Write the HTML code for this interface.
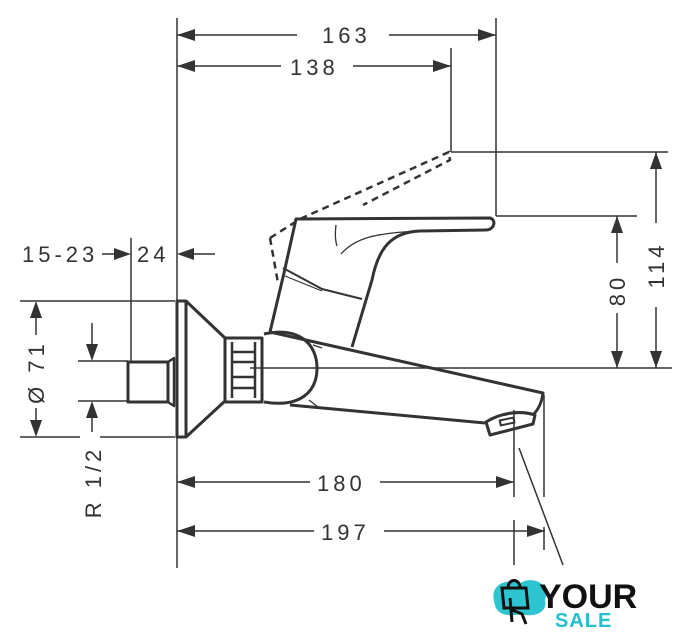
<!DOCTYPE html>
<html><head><meta charset="utf-8"><style>
html,body{margin:0;padding:0;background:#fff}
svg{display:block}
text{font-family:"Liberation Sans",sans-serif;fill:#333;font-size:22px;letter-spacing:4px}
</style></head><body>
<svg width="693" height="640" viewBox="0 0 693 640" xmlns="http://www.w3.org/2000/svg">
<g stroke="#333" stroke-width="1.5" fill="none">
<line x1="177" y1="18" x2="177" y2="300"/>
<line x1="177" y1="438" x2="177" y2="568"/>
<line x1="496" y1="18" x2="496" y2="216"/>
<line x1="451" y1="48" x2="451" y2="152"/>
<line x1="451" y1="152" x2="668" y2="152"/>
<line x1="496" y1="216" x2="637" y2="216"/>
<line x1="250" y1="368" x2="672" y2="368"/>
<line x1="177" y1="35" x2="297" y2="35"/><line x1="389" y1="35" x2="496" y2="35"/>
<line x1="177" y1="66" x2="281" y2="66"/><line x1="353" y1="66" x2="451" y2="66"/>
<line x1="617" y1="216" x2="617" y2="263"/><line x1="617" y1="313" x2="617" y2="368"/>
<line x1="656" y1="152" x2="656" y2="223"/><line x1="656" y1="307" x2="656" y2="368"/>
<line x1="102" y1="254" x2="118" y2="254"/>
<line x1="131" y1="238" x2="131" y2="361"/>
<line x1="193" y1="254" x2="215" y2="254"/>
<line x1="20" y1="301" x2="175" y2="301"/>
<line x1="20" y1="437" x2="80" y2="437"/><line x1="100" y1="437" x2="175" y2="437"/>
<line x1="36" y1="318" x2="36" y2="335"/><line x1="36" y1="408" x2="36" y2="420"/>
<line x1="78" y1="361" x2="128" y2="361"/><line x1="78" y1="401" x2="128" y2="401"/>
<line x1="92" y1="323" x2="92" y2="345"/><line x1="92" y1="417" x2="92" y2="432"/>
<line x1="177" y1="482" x2="310" y2="482"/><line x1="380" y1="482" x2="514" y2="482"/>
<line x1="177" y1="531" x2="314" y2="531"/><line x1="384" y1="531" x2="545" y2="531"/>
<line x1="514" y1="410" x2="514" y2="497"/><line x1="514" y1="520" x2="514" y2="565"/>
<line x1="544" y1="395" x2="544" y2="497"/><line x1="544" y1="527" x2="544" y2="550"/>
<line x1="519" y1="448" x2="563" y2="565"/>
</g>
<g fill="#333">
<polygon points="177,35 195,29 195,41"/><polygon points="496,35 478,29 478,41"/>
<polygon points="177,66 195,60 195,72"/><polygon points="451,66 433,60 433,72"/>
<polygon points="617,216 611,233 623,233"/><polygon points="617,368 611,351 623,351"/>
<polygon points="656,152 650,169 662,169"/><polygon points="656,368 650,351 662,351"/>
<polygon points="131,254 114,248 114,260"/><polygon points="177,254 194,248 194,260"/>
<polygon points="36,301 30,318 42,318"/><polygon points="36,437 30,420 42,420"/>
<polygon points="92,361 86,344 98,344"/><polygon points="92,401 86,418 98,418"/>
<polygon points="177,482 195,476 195,488"/><polygon points="514,482 496,476 496,488"/>
<polygon points="177,531 195,525 195,537"/><polygon points="545,531 527,525 527,537"/>
</g>
<text x="322" y="43">163</text>
<text x="290" y="75">138</text>
<text x="22" y="262">15-23</text>
<text x="137" y="262">24</text>
<text x="317" y="491">180</text>
<text x="321" y="540">197</text>
<text transform="translate(625,290) rotate(-90)" text-anchor="middle">80</text>
<text transform="translate(664,265) rotate(-90)" text-anchor="middle">114</text>
<text transform="translate(44,372) rotate(-90)" text-anchor="middle">Ø 71</text>
<text transform="translate(101,482) rotate(-90)" text-anchor="middle">R 1/2</text>
<g stroke="#333" stroke-width="3" fill="none" stroke-linejoin="round">
<rect x="128" y="362" width="40" height="40"/>
<path d="M168,362 V402 L174,406 V358 Z" stroke-width="2.5"/>
<rect x="177" y="301" width="9" height="136"/>
<path d="M186,301 L225,338 M186,437 L225,401"/>
<rect x="225" y="338" width="37" height="64"/>
<path d="M232,342 V398 M255,342 V398 M232,352 H255 M232,362 H255 M232,377 H255 M232,388 H255" stroke-width="2.5"/>
<path d="M264,334 C300,326 317,345 317,368 C317,392 300,408 264,402"/>
<path d="M270,332 L543,393 C542,402 538,410 533,415"/>
<path d="M290,405 L485,423"/>
<path d="M486,422 L490,435 L533,424 L535,415 C520,410 500,413 486,422 Z"/>
<rect x="500" y="419" width="14" height="5" stroke-width="2" transform="rotate(-12 507 421)"/>
<path d="M270,332 L284,273 L296,219 L490,218 C497,220 494,230 486,230 L420,231 C390,232 378,250 372,280 L352,347"/>
<path d="M283,268 L322,289 L362,299" stroke-width="2"/>
<path d="M285,276 L322,291" stroke-width="1.2"/>
<path d="M336,225 C335,233 335,240 337,246 M341,254 C355,238 375,233 420,231" stroke-width="1.3"/>
<path d="M313,345 L322,348 M309,400 L318,407" stroke-width="1.3"/>
<path d="M270,238 L278,283 M270,238 L300,219 L449,152 L450,160 L363,205" stroke-dasharray="7,5" stroke-width="2.5"/>
</g>
<g>
<path d="M495,605 C488,585 505,578 520,583 C535,575 550,585 545,600 C548,612 535,618 520,614 C505,618 496,612 495,605 Z" fill="#2ec4d0"/>
<path d="M502,588 L526,588 L528,608 L504,608 Z M508,588 C508,578 520,578 520,588" stroke="#111" stroke-width="3" fill="none"/>
<path d="M510,598 L512,622 M512,610 L522,614 L526,624" stroke="#111" stroke-width="3" fill="none"/>
<text x="539" y="608" style="font-size:34px;font-weight:bold;fill:#111;letter-spacing:0">YOUR</text>
<text x="555" y="627" style="font-size:20px;font-weight:bold;fill:#22c0d0;letter-spacing:1px">SALE</text>
</g>
</svg>
</body></html>
